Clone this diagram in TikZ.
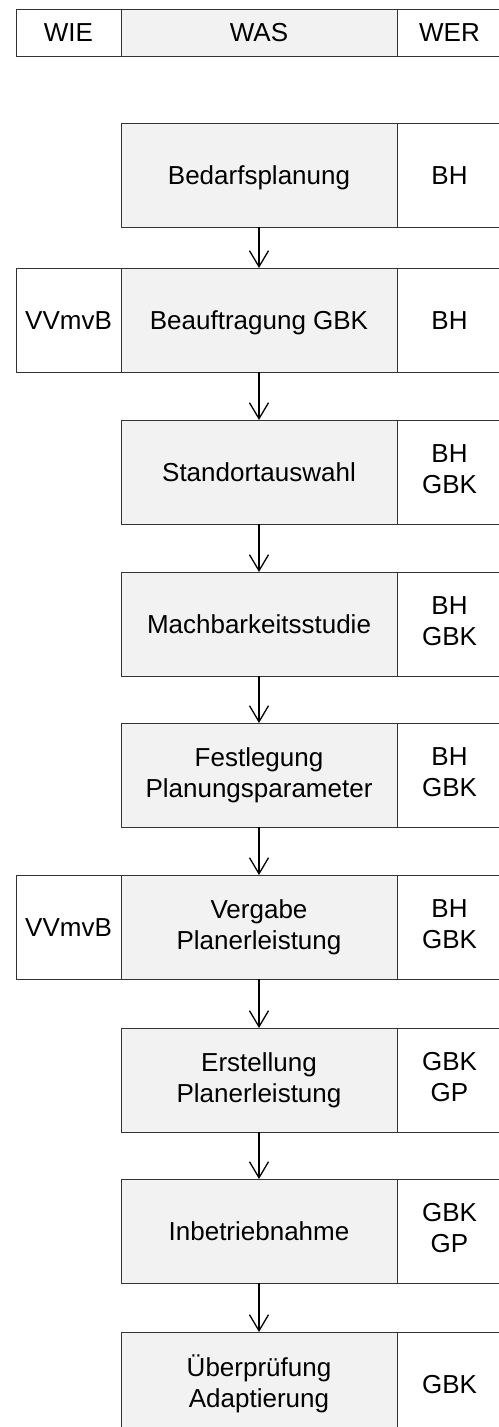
\documentclass[tikz,border=0pt]{standalone}
\usepackage{fontspec}
\setmainfont{Liberation Sans}
\usetikzlibrary{arrows.meta,positioning}

\tikzset{
  cell/.style={draw=black!80, line width=1pt, inner sep=0pt, outer sep=0pt,
    align=center, minimum height=104pt, font=\fontsize{26}{31}\selectfont,
    execute at begin node={\rule{0pt}{24pt}},
    execute at end node={\rule[-5.4pt]{0pt}{5.4pt}}},
  was/.style={cell, fill=gray!10, minimum width=276pt},
  side/.style={cell, fill=white, minimum width=105pt},
  flow/.style={-{Straight Barb[length=16pt,width=19pt]}, line width=1.3pt},
}

\begin{document}
\begin{tikzpicture}[x=1pt,y=-1pt]
    \useasboundingbox (0,0) rectangle (498,1427);

    % header row
    \node[was, minimum height=47pt] (head) at (259,32.5) {WAS};
    \node[side, minimum height=47pt, left=0pt of head] (headwie) {WIE};
    \node[side, minimum height=47pt, right=0pt of head] (headwer) {WER};

    % process steps, WAS column
    \node[was] (was1) at (259,175) {Bedarfsplanung};
    \node[was] (was2) at (259,320) {Beauftragung GBK};
    \node[was] (was3) at (259,472) {Standortauswahl};
    \node[was] (was4) at (259,624) {Machbarkeitsstudie};
    \node[was] (was5) at (259,775) {Festlegung\\Planungsparameter};
    \node[was] (was6) at (259,927) {Vergabe\\Planerleistung};
    \node[was] (was7) at (259,1080) {Erstellung\\Planerleistung};
    \node[was] (was8) at (259,1231) {Inbetriebnahme};
    \node[was] (was9) at (259,1384) {Überprüfung\\Adaptierung};

    % WER column
    \node[side, right=0pt of was1] (wer1) {BH};
    \node[side, right=0pt of was2] (wer2) {BH};
    \node[side, right=0pt of was3] (wer3) {BH\\GBK};
    \node[side, right=0pt of was4] (wer4) {BH\\GBK};
    \node[side, right=0pt of was5] (wer5) {BH\\GBK};
    \node[side, right=0pt of was6] (wer6) {BH\\GBK};
    \node[side, right=0pt of was7] (wer7) {GBK\\GP};
    \node[side, right=0pt of was8] (wer8) {GBK\\GP};
    \node[side, right=0pt of was9] (wer9) {GBK};

    % WIE column
    \node[side, left=0pt of was2] (wie2) {VVmvB};
    \node[side, left=0pt of was6] (wie6) {VVmvB};

    % arrows between steps
    \foreach \a/\b in {1/2,2/3,3/4,4/5,5/6,6/7,7/8,8/9}
        \draw[flow] (was\a) -- (was\b);
\end{tikzpicture}
\end{document}
